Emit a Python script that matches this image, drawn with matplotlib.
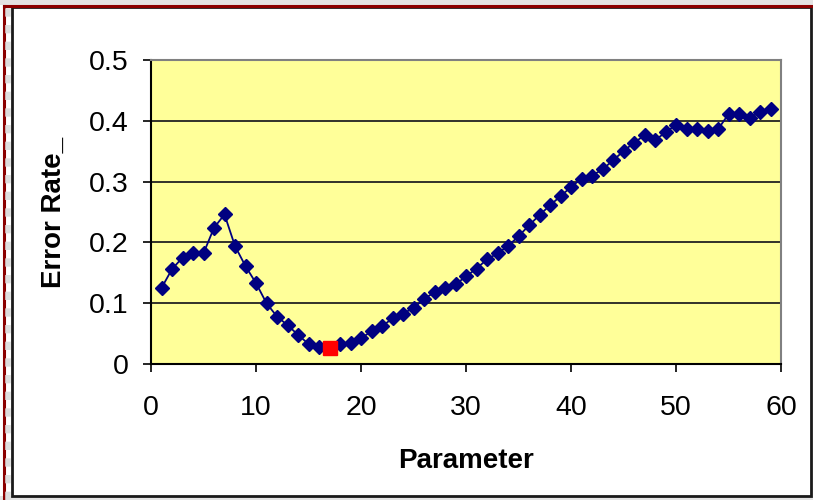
import matplotlib
matplotlib.use("Agg")
import matplotlib.pyplot as plt
from matplotlib.lines import Line2D
from matplotlib.patches import Rectangle

# --- Data ---
params = list(range(1, 60))
error_rate = [
    0.125, 0.156, 0.175, 0.182, 0.182, 0.224, 0.246, 0.194, 0.161, 0.133,
    0.100, 0.078, 0.064, 0.048, 0.033, 0.028, 0.026, 0.033, 0.035, 0.042,
    0.054, 0.062, 0.075, 0.083, 0.092, 0.107, 0.118, 0.125, 0.131, 0.144,
    0.157, 0.172, 0.182, 0.194, 0.210, 0.228, 0.245, 0.261, 0.276, 0.291,
    0.305, 0.310, 0.320, 0.335, 0.350, 0.364, 0.376, 0.368, 0.381, 0.393,
    0.387, 0.387, 0.383, 0.386, 0.411, 0.411, 0.404, 0.415, 0.420,
]
best_param = 17
best_error = 0.026

x_ticks = [0, 10, 20, 30, 40, 50, 60]
y_ticks = [0, 0.1, 0.2, 0.3, 0.4, 0.5]
y_tick_labels = ["0", "0.1", "0.2", "0.3", "0.4", "0.5"]

W, H = 813, 500


def fx(px):
    return px / W


def fy(py):
    return 1 - py / H


plt.rcParams["font.family"] = ["Liberation Sans", "DejaVu Sans"]

fig = plt.figure(figsize=(W / 100, H / 100), dpi=100)
fig.patch.set_facecolor("white")

# --- Frame around the chart (document screenshot look) ---
fig.patches.append(Rectangle((0, fy(5)), 1, 5 / H, transform=fig.transFigure,
                             facecolor="#e3e3e3", edgecolor="none"))
fig.patches.append(Rectangle((0, 0), 1, 4 / H, transform=fig.transFigure,
                             facecolor="#e3e3e3", edgecolor="none"))
fig.lines.append(Line2D([fx(4), 1], [fy(6), fy(6)], transform=fig.transFigure,
                        color="#8b0000", linewidth=2.2))
fig.lines.append(Line2D([fx(4), fx(4)], [0, fy(6)], transform=fig.transFigure,
                        color="#8b0000", linewidth=2.2))
fig.lines.append(Line2D([fx(8), fx(8)], [0, fy(7)], transform=fig.transFigure,
                        color="#dddddd", linewidth=4, linestyle=(0, (1.5, 1.5))))
fig.patches.append(Rectangle((fx(12), fy(496)), fx(811) - fx(12), fy(7) - fy(496),
                             transform=fig.transFigure, facecolor="none",
                             edgecolor="#1a1a1a", linewidth=2))

# --- Plot area ---
ax = fig.add_axes([fx(151), fy(364), fx(781) - fx(151), fy(60) - fy(364)])
ax.set_facecolor("#ffff99")
ax.set_xlim(0, 60)
ax.set_ylim(0, 0.5)

for y in y_ticks[1:-1]:
    ax.axhline(y, color="#222222", linewidth=1.3, zorder=1)

ax.plot(params, error_rate, color="#000080", linewidth=1.3, marker="D",
        markersize=7, markerfacecolor="#000080", markeredgecolor="#000080", zorder=3)
ax.plot([best_param], [best_error], marker="s", markersize=9.5, color="#ff0000",
        linestyle="none", zorder=4)

ax.set_xticks(x_ticks)
ax.set_yticks(y_ticks)
ax.set_yticklabels(y_tick_labels)
ax.tick_params(axis="both", direction="out", length=6, width=1.2,
               labelsize=20.5, color="black")
ax.tick_params(axis="x", pad=16)
ax.tick_params(axis="y", pad=10)

ax.spines["left"].set_color("black")
ax.spines["bottom"].set_color("black")
ax.spines["left"].set_linewidth(1.5)
ax.spines["bottom"].set_linewidth(1.5)
ax.spines["top"].set_color("#808080")
ax.spines["right"].set_color("#808080")
ax.spines["top"].set_linewidth(1.5)
ax.spines["right"].set_linewidth(1.5)

ax.set_xlabel("Parameter", fontsize=20, fontweight="bold", labelpad=20)
ax.set_ylabel("Error Rate_", fontsize=20, fontweight="bold", labelpad=16)

fig.savefig("out.png", dpi=100, facecolor=fig.get_facecolor())
